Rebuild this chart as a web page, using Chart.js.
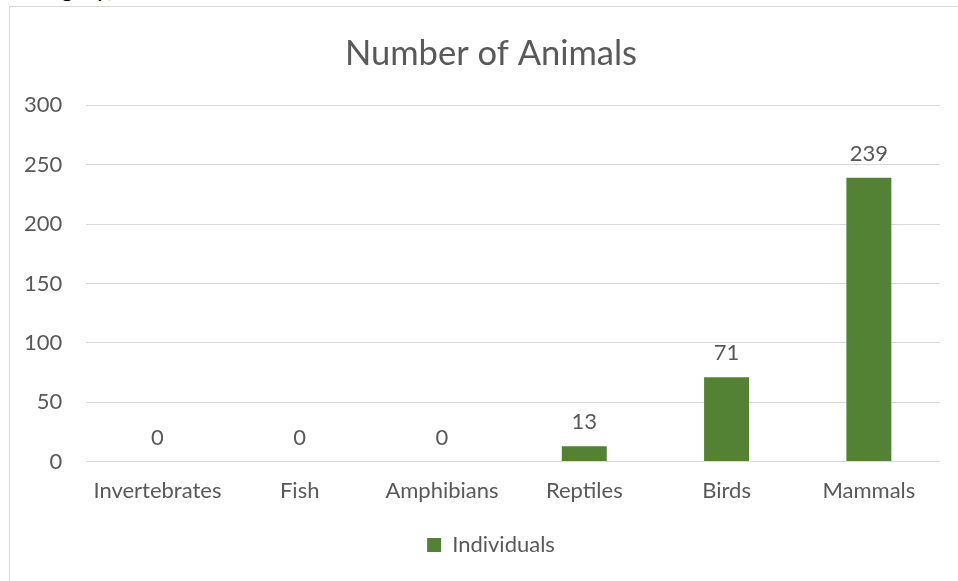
<!DOCTYPE html>
<html>
<head>
<meta charset="utf-8">
<script src="https://cdn.jsdelivr.net/npm/chart.js@4"></script>
<style>
    body { margin: 0; background: #fff; overflow: hidden; }
    #clip { position: absolute; left: 28px; top: -27px; font: 24px Lato, sans-serif; color: #000; }
    #frame { position: absolute; left: 9px; top: 6px; width: 960px; height: 600px; border: 1px solid #d9d9d9; background: #fff; }
    #myChart { position: absolute; left: 0px; top: 7px; }
</style>
</head>
<body>
<div id="clip">ategory)</div>
<div id="frame"></div>
<canvas id="myChart" width="982" height="574"></canvas>
<script>
var categories = ['Invertebrates', 'Fish', 'Amphibians', 'Reptiles', 'Birds', 'Mammals'];
var individuals = [0, 0, 0, 13, 71, 239];
var yTicks = [0, 50, 100, 150, 200, 250, 300];

var textColor = '#595959';

// draws the value above each bar, like Excel data labels
var valueLabels = {
    id: 'valueLabels',
    afterDatasetsDraw: function(chart) {
        var ctx = chart.ctx;
        var meta = chart.getDatasetMeta(0);
        ctx.save();
        ctx.fillStyle = textColor;
        ctx.font = '22px Lato, sans-serif';
        ctx.textAlign = 'center';
        ctx.textBaseline = 'bottom';
        meta.data.forEach(function(bar, i) {
            ctx.fillText(individuals[i], bar.x, bar.y - 13);
        });
        ctx.restore();
    }
};

window.onload = function() {
    var ctx = document.getElementById('myChart').getContext('2d');
    new Chart(ctx, {
        type: 'bar',
        data: {
            labels: categories,
            datasets: [{
                label: 'Individuals',
                data: individuals,
                backgroundColor: '#548235',
                borderWidth: 0,
                barPercentage: 1,
                categoryPercentage: 0.316
            }]
        },
        options: {
            responsive: false,
            animation: false,
            layout: { padding: { left: 0, right: 0, top: 20, bottom: 15 } },
            scales: {
                y: {
                    min: 0,
                    max: 300,
                    afterBuildTicks: function(axis) {
                        axis.ticks = yTicks.map(function(v) { return { value: v }; });
                    },
                    border: { display: false },
                    grid: { color: '#d9d9d9', drawTicks: false },
                    ticks: { color: textColor, padding: 24, font: { family: 'Lato', size: 22 } }
                },
                // empty right axis, only keeps the space right of the plot
                spacer: {
                    position: 'right',
                    display: true,
                    grid: { display: false, drawTicks: false },
                    border: { display: false },
                    ticks: { display: false },
                    afterFit: function(axis) { axis.width = 42; }
                },
                x: {
                    border: { display: false },
                    grid: { display: false, drawTicks: false },
                    ticks: { color: textColor, padding: 16, font: { family: 'Lato', size: 22 } }
                }
            },
            plugins: {
                title: {
                    display: true,
                    text: 'Number of Animals',
                    color: textColor,
                    font: { family: 'Lato', size: 34.5, weight: 'normal' },
                    padding: { top: 6, bottom: 31 }
                },
                legend: {
                    display: true,
                    position: 'bottom',
                    labels: {
                        color: textColor,
                        boxWidth: 14,
                        boxHeight: 14,
                        padding: 14,
                        font: { family: 'Lato', size: 22 }
                    }
                },
                tooltip: { enabled: false }
            }
        },
        plugins: [valueLabels]
    });
};
</script>
</body>
</html>
